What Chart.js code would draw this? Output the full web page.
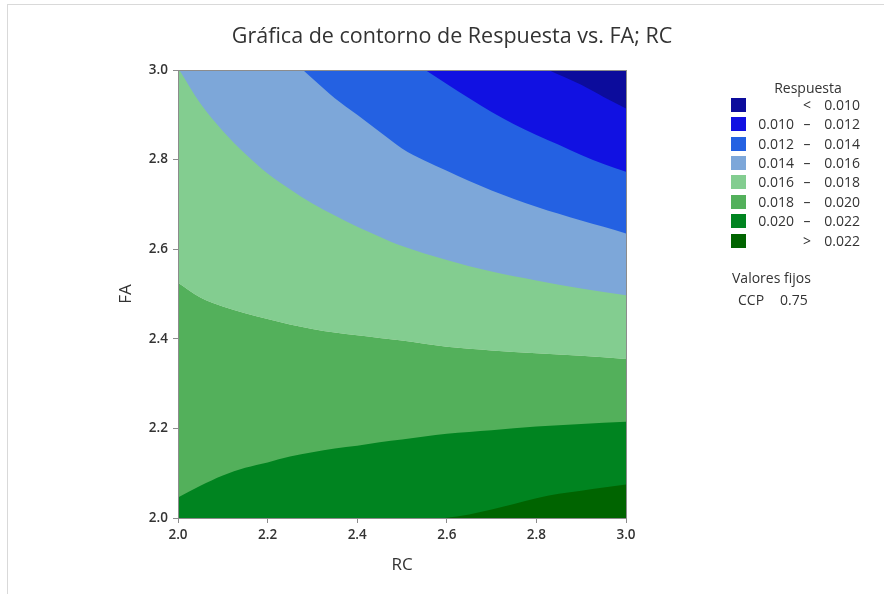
<!DOCTYPE html>
<html>
<head>
<meta charset="utf-8">
<script src="https://cdn.jsdelivr.net/npm/chart.js@4.4.0/dist/chart.umd.min.js"></script>
<style>
  html, body { margin: 0; padding: 0; background: #fff; }
  #wrap { position: relative; width: 884px; height: 594px; overflow: hidden; }
  #frame { position: absolute; left: 7px; top: 4px; width: 900px; height: 600px;
           border-left: 1px solid #d9d9d9; border-top: 1px solid #d9d9d9; }
  #chart { position: absolute; left: 0; top: 0; }
  #legend { position: absolute; left: 0; top: 0; width: 884px; height: 594px;
            font-family: 'Open Sans', sans-serif; font-size: 14px; color: #333; }
  #legend div { position: absolute; white-space: nowrap; line-height: 16px; }
</style>
</head>
<body>
<div id="wrap">
  <div id="frame"></div>
  <canvas id="chart" width="884" height="594"></canvas>
  <div id="legend"></div>
</div>
<script>
// contour levels (legend)
const levelLow  = ['',       '0.010', '0.012', '0.014', '0.016', '0.018', '0.020', ''];
const levelSym  = ['<',      '–',     '–',     '–',     '–',     '–',     '–',     '>'];
const levelHigh = ['0.010',  '0.012', '0.014', '0.016', '0.018', '0.020', '0.022', '0.022'];
const levelColors = ['#0c0c9c', '#1111e2', '#2461e2', '#7da7d9', '#83cd90', '#53b05b', '#008420', '#006400'];

// axis ticks
const rcTicks = [2.0, 2.2, 2.4, 2.6, 2.8, 3.0];
const faTicks = [2.0, 2.2, 2.4, 2.6, 2.8, 3.0];

// contour lines: FA value along RC
const rc010 = [2.827, 2.9, 2.95, 3.0];
const fa010 = [3.0, 2.967, 2.94, 2.914];

const rc012 = [2.552, 2.6, 2.65, 2.7, 2.75, 2.8, 2.85, 2.9, 2.95, 3.0];
const fa012 = [3.0, 2.969, 2.937, 2.906, 2.879, 2.855, 2.833, 2.81, 2.79, 2.773];

const rc014 = [2.279, 2.3, 2.35, 2.4, 2.45, 2.5, 2.55, 2.6, 2.65, 2.7, 2.75, 2.8, 2.85, 2.9, 2.95, 3.0];
const fa014 = [3.0, 2.981, 2.937, 2.9, 2.862, 2.825, 2.798, 2.775, 2.752, 2.731, 2.712, 2.695, 2.679, 2.664, 2.65, 2.635];

const rc016 = [2.003, 2.05, 2.1, 2.15, 2.2, 2.25, 2.3, 2.35, 2.4, 2.45, 2.5, 2.6, 2.7, 2.8, 2.9, 3.0];
const fa016 = [3.0, 2.925, 2.864, 2.813, 2.769, 2.734, 2.702, 2.675, 2.65, 2.628, 2.607, 2.576, 2.55, 2.53, 2.512, 2.497];

const rc018 = [2.0, 2.05, 2.1, 2.15, 2.2, 2.25, 2.3, 2.35, 2.4, 2.45, 2.5, 2.6, 2.7, 2.8, 2.9, 3.0];
const fa018 = [2.525, 2.492, 2.472, 2.457, 2.444, 2.432, 2.422, 2.414, 2.408, 2.402, 2.396, 2.382, 2.374, 2.368, 2.362, 2.355];

const rc020 = [2.0, 2.05, 2.1, 2.15, 2.2, 2.25, 2.3, 2.35, 2.4, 2.45, 2.5, 2.6, 2.7, 2.8, 2.9, 3.0];
const fa020 = [2.046, 2.072, 2.095, 2.112, 2.124, 2.137, 2.147, 2.155, 2.161, 2.169, 2.175, 2.188, 2.196, 2.204, 2.21, 2.215];

const rc022 = [2.595, 2.65, 2.7, 2.75, 2.8, 2.85, 2.9, 2.95, 3.0];
const fa022 = [2.0, 2.008, 2.019, 2.031, 2.044, 2.054, 2.061, 2.068, 2.075];

const FONT = "'Open Sans', sans-serif";

function pts(rc, fa) {
  return rc.map((x, i) => ({ x: x, y: fa[i] }));
}

// each band is painted over the previous ones, bottom layer first
const bands = [
  { rc: rc018, fa: fa018, fill: 'end',   color: levelColors[4] },
  { rc: rc018, fa: fa018, fill: 'start', color: levelColors[5] },
  { rc: rc020, fa: fa020, fill: 'start', color: levelColors[6] },
  { rc: rc022, fa: fa022, fill: 'start', color: levelColors[7] },
  { rc: rc016, fa: fa016, fill: 'end',   color: levelColors[3] },
  { rc: rc014, fa: fa014, fill: 'end',   color: levelColors[2] },
  { rc: rc012, fa: fa012, fill: 'end',   color: levelColors[1] },
  { rc: rc010, fa: fa010, fill: 'end',   color: levelColors[0] }
];

const datasets = bands.map((b, i) => ({
  data: pts(b.rc, b.fa),
  fill: b.fill,
  backgroundColor: b.color,
  borderColor: b.color,
  borderWidth: 0,
  pointRadius: 0,
  cubicInterpolationMode: 'monotone',
  order: 100 - i
}));

const axisGray = '#8c8c8c';

new Chart(document.getElementById('chart'), {
  type: 'scatter',
  data: { datasets: datasets },
  options: {
    responsive: false,
    animation: false,
    showLine: true,
    layout: { padding: { left: 20, right: 0, top: 0, bottom: 0 } },
    plugins: {
      legend: { display: false },
      tooltip: { enabled: false },
      title: {
        display: true,
        text: 'Gráfica de contorno de Respuesta vs. FA; RC',
        color: '#333',
        font: { family: FONT, size: 21.5, weight: 'normal' },
        padding: { top: 24, bottom: 20.2 }
      }
    },
    scales: {
      x: {
        type: 'linear', position: 'bottom', min: 2, max: 3,
        afterFit: s => { s.height = 76; },
        afterBuildTicks: s => { s.ticks = rcTicks.map(v => ({ value: v })); },
        ticks: { callback: v => v.toFixed(1), color: '#333', padding: 4,
                 font: { family: FONT, size: 13.5, weight: '600' }, maxRotation: 0 },
        grid: { drawOnChartArea: false, tickLength: 5, color: axisGray },
        border: { display: true, color: axisGray, z: 1 },
        title: { display: true, text: 'RC', color: '#333',
                 font: { family: FONT, size: 17 }, padding: { bottom: 19 } }
      },
      y: {
        type: 'linear', position: 'left', min: 2, max: 3,
        afterFit: s => { s.width = 158; },
        afterBuildTicks: s => { s.ticks = faTicks.map(v => ({ value: v })); },
        ticks: { callback: v => v.toFixed(1), color: '#333', padding: 5,
                 font: { family: FONT, size: 13.5, weight: '600' } },
        grid: { drawOnChartArea: false, tickLength: 5, color: axisGray },
        border: { display: true, color: axisGray, z: 1 },
        title: { display: true, text: 'FA', color: '#333',
                 font: { family: FONT, size: 17 }, padding: { top: 96 } }
      },
      x2: {
        type: 'linear', position: 'top', min: 2, max: 3,
        afterFit: s => { s.height = 0; },
        ticks: { display: false },
        grid: { display: false },
        border: { display: true, color: axisGray, z: 1 }
      },
      y2: {
        type: 'linear', position: 'right', min: 2, max: 3,
        afterFit: s => { s.width = 258; },
        ticks: { display: false },
        grid: { display: false },
        border: { display: true, color: axisGray, z: 1 }
      }
    }
  }
});

// legend at the right
const legend = document.getElementById('legend');
function put(text, left, top, align, extra) {
  const d = document.createElement('div');
  d.textContent = text;
  d.style.top = top + 'px';
  if (align === 'right') { d.style.right = (884 - left) + 'px'; d.style.textAlign = 'right'; }
  else if (align === 'center') { d.style.left = (left - 30) + 'px'; d.style.width = '60px'; d.style.textAlign = 'center'; }
  else d.style.left = left + 'px';
  if (extra) Object.assign(d.style, extra);
  legend.appendChild(d);
  return d;
}
put('Respuesta', 808, 80, 'center', { width: '100px', left: '758px' });
levelHigh.forEach((hi, i) => {
  const cy = 104.7 + i * 19.4;
  const sq = document.createElement('div');
  Object.assign(sq.style, { left: '731px', top: (cy - 7) + 'px', width: '15px', height: '14px',
                            background: levelColors[i] });
  legend.appendChild(sq);
  put(levelLow[i], 794, cy - 8, 'right');
  put(levelSym[i], 807, cy - 8, 'center');
  put(hi, 860, cy - 8, 'right');
});
put('Valores fijos', 732, 270, 'left');
put('CCP', 738, 292, 'left');
put('0.75', 780, 292, 'left');
</script>
</body>
</html>
